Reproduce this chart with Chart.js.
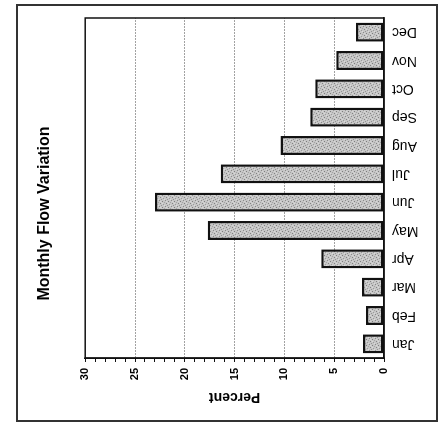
<!DOCTYPE html>
<html>
<head>
<meta charset="utf-8">
<script src="https://cdn.jsdelivr.net/npm/chart.js@4"></script>
<style>
  html, body { margin: 0; padding: 0; background: #fff; width: 445px; height: 424px; overflow: hidden; }
  /* The chart is laid out upright, then turned a quarter turn so the percent axis runs along the bottom */
  #turn { position: absolute; left: 0; top: 0; width: 424px; height: 445px;
          transform-origin: 0 0; transform: translate(0, 424px) rotate(-90deg); }
  canvas { display: block; }
</style>
</head>
<body>
<div id="turn"><canvas id="flow" width="424" height="445"></canvas></div>
<script>
// Share of yearly flow carried in each month (percent)
const months = ['Jan', 'Feb', 'Mar', 'Apr', 'May', 'Jun', 'Jul', 'Aug', 'Sep', 'Oct', 'Nov', 'Dec'];
const flowPercent = [2.1, 1.8, 2.2, 6.3, 17.7, 23.0, 16.4, 10.4, 7.4, 6.9, 4.8, 2.8];
const percentTicks = [0, 5, 10, 15, 20, 25, 30];

const FONT = "'Liberation Sans', Arial, Helvetica, sans-serif";

// Grey stipple used to fill the bars
function stipple() {
  const c = document.createElement('canvas');
  c.width = 6; c.height = 6;
  const g = c.getContext('2d');
  g.fillStyle = '#c6c6c6';
  g.fillRect(0, 0, 6, 6);
  const specks = [
    [0, 0, '#7e7e7e'], [3, 1, '#9a9a9a'], [1, 3, '#8a8a8a'], [4, 4, '#838383'],
    [5, 2, '#a4a4a4'], [2, 5, '#939393'], [4, 0, '#dadada'], [0, 4, '#d6d6d6'],
    [2, 2, '#dcdcdc'], [5, 5, '#d0d0d0']
  ];
  specks.forEach(([x, y, col]) => { g.fillStyle = col; g.fillRect(x, y, 1, 1); });
  return g.createPattern(c, 'repeat');
}

// Plot box and the outer frame round the whole figure
const frames = {
  id: 'frames',
  afterDraw(chart) {
    const { ctx, chartArea: a } = chart;
    ctx.save();
    ctx.strokeStyle = '#111';
    ctx.lineWidth = 1.5;
    ctx.strokeRect(a.left, a.top, a.right - a.left, a.bottom - a.top);
    ctx.strokeStyle = '#333';
    ctx.lineWidth = 2;
    ctx.strokeRect(3, 17, 416, 420);
    ctx.restore();
  }
};

new Chart(document.getElementById('flow'), {
  type: 'bar',
  data: {
    labels: months,
    datasets: [{
      data: flowPercent,
      backgroundColor: stipple(),
      borderColor: '#111',
      borderWidth: 2.5,
      borderSkipped: false,
      barPercentage: 0.67,
      categoryPercentage: 1
    }]
  },
  options: {
    responsive: false,
    animation: false,
    devicePixelRatio: 1,
    layout: { padding: { left: 15, right: 18, top: 0, bottom: 0 } },
    plugins: {
      legend: { display: false },
      tooltip: { enabled: false },
      title: {
        display: true,
        text: 'Monthly Flow Variation',
        color: '#000',
        font: { family: FONT, size: 16, weight: 'bold' },
        padding: { top: 35, bottom: 31 }
      }
    },
    scales: {
      x: {
        grid: { display: false, drawTicks: false },
        border: { display: true, color: '#111', width: 1.5 },
        ticks: {
          autoSkip: false,
          minRotation: 90,
          maxRotation: 90,
          padding: 8,
          color: '#000',
          font: { family: FONT, size: 14 }
        },
        afterFit(scale) { scale.height = 61; }
      },
      y: {
        min: 0,
        max: 30,
        ticks: {
          stepSize: 1,
          autoSkip: false,
          padding: 6,
          color: '#000',
          font: { family: FONT, size: 11, weight: 'bold' },
          callback: v => percentTicks.includes(v) ? String(v) : ''
        },
        grid: {
          color: c => (c.tick && percentTicks.includes(c.tick.value) && c.tick.value > 0 && c.tick.value < 30) ? '#444' : 'rgba(0,0,0,0)',
          lineWidth: 1,
          tickColor: '#111',
          tickLength: 4,
          tickWidth: 1
        },
        border: { display: true, color: '#111', width: 1.5, dash: [1, 2] },
        title: {
          display: true,
          text: 'Percent',
          color: '#000',
          font: { family: FONT, size: 14, weight: 'bold' },
          padding: { top: 4, bottom: 0 }
        },
        afterFit(scale) { scale.width = 51; }
      }
    }
  },
  plugins: [frames]
});
</script>
</body>
</html>
